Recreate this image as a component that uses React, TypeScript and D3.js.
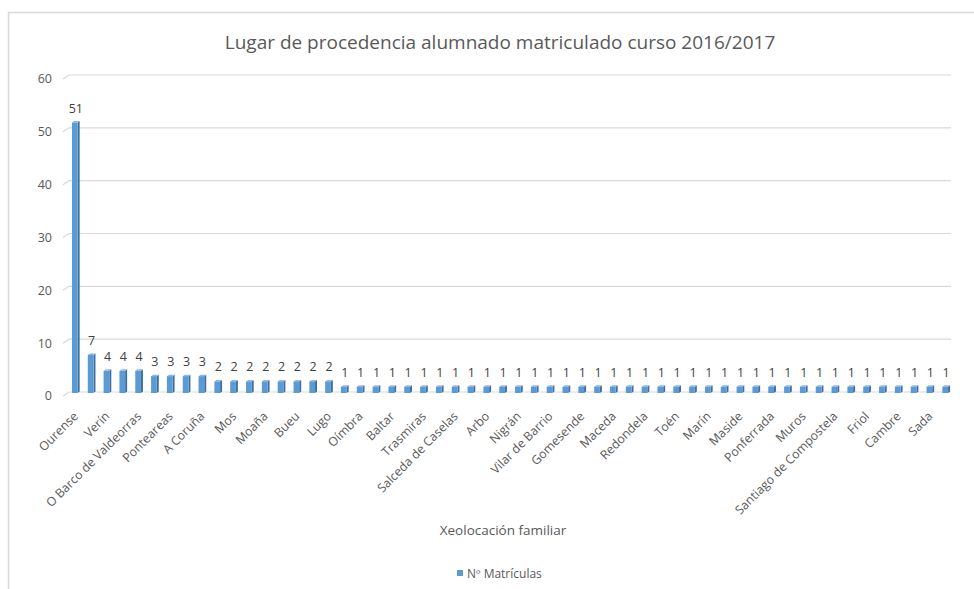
import * as d3 from "d3";

const title = "Lugar de procedencia alumnado matriculado curso 2016/2017";
const xTitle = "Xeolocación familiar";
const seriesName = "Nº Matrículas";

// only every other category name is printed on the axis; unprinted ones left blank
const places: string[] = [
  "Ourense", "", "Verín", "", "O Barco de Valdeorras", "", "Ponteareas", "",
  "A Coruña", "", "Mos", "", "Moaña", "", "Bueu", "", "Lugo", "", "Oímbra", "",
  "Baltar", "", "Trasmiras", "", "Salceda de Caselas", "", "Arbo", "", "Nigrán", "",
  "Vilar de Barrio", "", "Gomesende", "", "Maceda", "", "Redondela", "", "Toén", "",
  "Marín", "", "Maside", "", "Ponferrada", "", "Muros", "", "Santiago de Compostela", "",
  "Friol", "", "Cambre", "", "Sada", "",
];

const students: number[] = [
  51, 7, 4, 4, 4, 3, 3, 3, 3, 2, 2, 2, 2, 2, 2, 2, 2,
  1, 1, 1, 1, 1, 1, 1, 1, 1, 1, 1, 1, 1, 1, 1, 1, 1, 1, 1, 1, 1, 1, 1, 1, 1, 1,
  1, 1, 1, 1, 1, 1, 1, 1, 1, 1, 1, 1, 1,
];

const yTicks = [0, 10, 20, 30, 40, 50, 60];

const W = 974;
const H = 589;
const font = "'Open Sans', sans-serif";
const textColor = "#595959";
const gridColor = "#d9d9d9";
const depthX = 6;
const depthY = 4;

export default function App() {
  const idx = students.map((_, i) => String(i));
  const x = d3.scaleBand<string>().domain(idx).range([67, 951]).paddingInner(0.64).paddingOuter(0.25);
  const y = d3.scaleLinear().domain([0, 60]).range([392, 75]);

  const bw = x.bandwidth();
  const sd = 2; // bar side depth

  return (
    <svg
      width={W}
      height={H}
      viewBox={`0 0 ${W} ${H}`}
      style={{ position: "absolute", left: 0, top: 0, background: "#fff" }}
    >
      {/* chart border */}
      <path d={`M8.5,${H} V12.5 H${W}`} fill="none" stroke={gridColor} strokeWidth={1.5} />

      <text x={500} y={49} textAnchor="middle" fontFamily={font} fontSize={19} fill={textColor}>
        {title}
      </text>

      {/* gridlines with 3D wall offset */}
      {yTicks.map((t) => (
        <g key={t}>
          <path
            d={`M${69 - depthX},${y(t) + depthY} L69,${y(t)} H951`}
            fill="none"
            stroke={gridColor}
            strokeWidth={1.2}
          />
          <text
            x={52}
            y={y(t) + depthY}
            dy="0.35em"
            textAnchor="end"
            fontFamily={font}
            fontSize={12.5}
            fill={textColor}
          >
            {t}
          </text>
        </g>
      ))}

      {/* bars */}
      {students.map((v, i) => {
        const x0 = (x(String(i)) ?? 0) + 1;
        const yt = y(v);
        const yb = y(0) + 1;
        return (
          <g key={i}>
            <path
              d={`M${x0 + bw},${yb} L${x0 + bw + sd},${yb - 1.5} V${yt - 1.5} L${x0 + bw},${yt} Z`}
              fill="#3f6fa0"
            />
            <path
              d={`M${x0},${yt} L${x0 + sd},${yt - 1.5} H${x0 + bw + sd} L${x0 + bw},${yt} Z`}
              fill="#8db8e3"
            />
            <rect x={x0} y={yt} width={bw} height={yb - yt} fill="#5b9bd5" />
            <text
              x={x0 + bw / 2 + 1}
              y={yt - 10}
              textAnchor="middle"
              fontFamily={font}
              fontSize={12.5}
              fill="#404040"
            >
              {v}
            </text>
          </g>
        );
      })}

      {/* category labels */}
      {places.map((p, i) =>
        p ? (
          <text
            key={i}
            transform={`translate(${(x(String(i)) ?? 0) + bw / 2 + 5},${417}) rotate(-45)`}
            textAnchor="end"
            fontFamily={font}
            fontSize={12.3}
            fill={textColor}
          >
            {p}
          </text>
        ) : null
      )}

      <text x={503} y={535} textAnchor="middle" fontFamily={font} fontSize={13.5} fill={textColor}>
        {xTitle}
      </text>

      <rect x={457} y={570} width={6} height={6} fill="#5b9bd5" />
      <text x={467} y={577.5} fontFamily={font} fontSize={12} fill={textColor}>
        {seriesName}
      </text>
    </svg>
  );
}
